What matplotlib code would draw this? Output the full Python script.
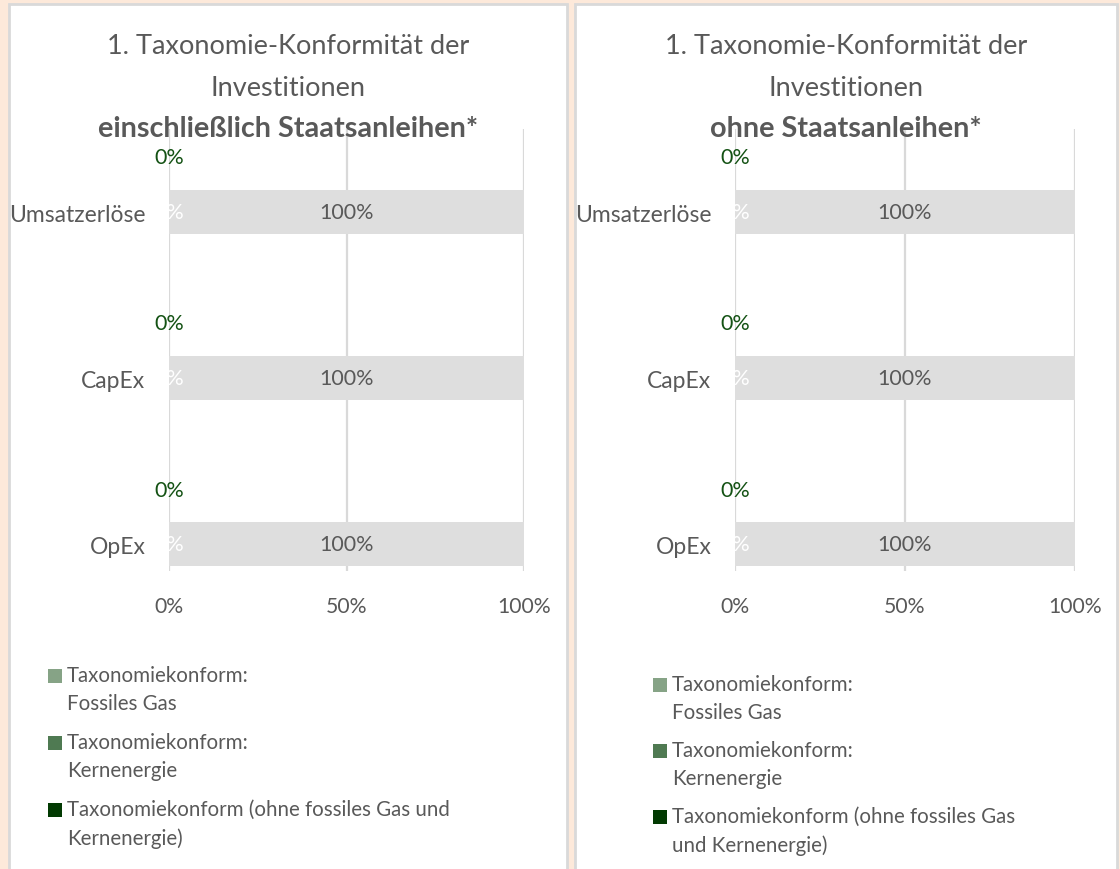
import matplotlib.pyplot as plt
from matplotlib.patches import Rectangle

plt.rcParams['font.family'] = ['Lato', 'DejaVu Sans']

categories = ['Umsatzerlöse', 'CapEx', 'OpEx']
fossil_gas = [0, 0, 0]
nuclear = [0, 0, 0]
aligned = [0, 0, 0]
other = [100, 100, 100]
x_ticks = [0, 50, 100]
x_tick_labels = ['0%', '50%', '100%']

subtitles = ['einschließlich Staatsanleihen*', 'ohne Staatsanleihen*']
title_lines = ['1. Taxonomie-Konformität der', 'Investitionen']
legend_labels = [
    ['Taxonomiekonform:\nFossiles Gas', 'Taxonomiekonform:\nKernenergie',
     'Taxonomiekonform (ohne fossiles Gas und\nKernenergie)'],
    ['Taxonomiekonform:\nFossiles Gas', 'Taxonomiekonform:\nKernenergie',
     'Taxonomiekonform (ohne fossiles Gas\nund Kernenergie)'],
]
series_colors = ['#86A386', '#4F7A52', '#023A02', '#DEDEDE']

txt = '#595959'
green_lbl = '#145214'
W, H = 1120, 870

fig = plt.figure(figsize=(11.2, 8.7), dpi=100)
fig.patch.set_facecolor('#FDE9DA')

# white panels behind each chart (pixel coords -> fig fraction)
panels = [(9, 567), (575, 1117)]
for x0, x1 in panels:
    fig.patches.append(Rectangle((x0 / W, -0.01), (x1 - x0) / W, 1 - 5 / H + 0.01,
                                 transform=fig.transFigure, facecolor='white',
                                 edgecolor='#D9D9D9', linewidth=2, zorder=-5))

axes_px = [(169, 524), (735, 1075)]
legend_px = [(48, 677, 67), (653, 686, 66)]

for i, ((ax0, ax1), (px0, px1)) in enumerate(zip(axes_px, panels)):
    ax = fig.add_axes([ax0 / W, 1 - 572 / H, (ax1 - ax0) / W, 442 / H])
    ax.set_zorder(2)
    ax.set_facecolor('none')
    y = list(range(len(categories)))
    h = 0.265
    left = [0, 0, 0]
    for vals, c in zip([fossil_gas, nuclear, aligned, other], series_colors):
        ax.barh(y, vals, height=h, left=left, color=c, zorder=2)
        left = [l + v for l, v in zip(left, vals)]
    for yi, a, o in zip(y, aligned, other):
        ax.text(a, yi - 0.33, f'{a:.0f}%', color=green_lbl, fontsize=15.5,
                ha='center', va='center', zorder=3)
        ax.text(0, yi, '0%', color='white', fontsize=15.5, ha='center',
                va='center', zorder=3)
        ax.text(o / 2, yi, f'{o:.0f}%', color=txt, fontsize=15.5, ha='center',
                va='center', zorder=3)
    ax.set_xlim(0, 100)
    ax.set_ylim(2.16, -0.5)
    ax.set_xticks(x_ticks)
    ax.set_xticklabels(x_tick_labels, color=txt, fontsize=15.2)
    ax.set_yticks(y)
    ax.set_yticklabels(categories, color=txt, fontsize=16.5)
    ax.tick_params(length=0)
    ax.tick_params(axis='x', pad=18)
    ax.tick_params(axis='y', pad=17)
    ax.grid(axis='x', color='#D9D9D9', linewidth=1.6, zorder=1)
    ax.set_axisbelow(True)
    for s in ax.spines.values():
        s.set_visible(False)

    cx = (px0 + px1) / 2 / W
    for k, line in enumerate(title_lines):
        fig.text(cx, 1 - (46 + 42 * k) / H, line, ha='center', va='center',
                 color=txt, fontsize=19.5)
    fig.text(cx, 1 - 129 / H, subtitles[i], ha='center', va='center', color=txt,
             fontsize=20.7, fontweight='bold')

    mx, my, step = legend_px[i]
    for j, (lab, c) in enumerate(zip(legend_labels[i], series_colors[:3])):
        yy = my + j * step
        fig.patches.append(Rectangle((mx / W, 1 - (yy + 7) / H), 14 / W, 14 / H,
                                     transform=fig.transFigure, facecolor=c,
                                     edgecolor='none', zorder=2))
        fig.text((mx + 19) / W, 1 - (yy - 11) / H, lab, ha='left', va='top',
                 color=txt, fontsize=14.8, linespacing=1.48)

fig.savefig('out.png', dpi=100, facecolor=fig.get_facecolor())
